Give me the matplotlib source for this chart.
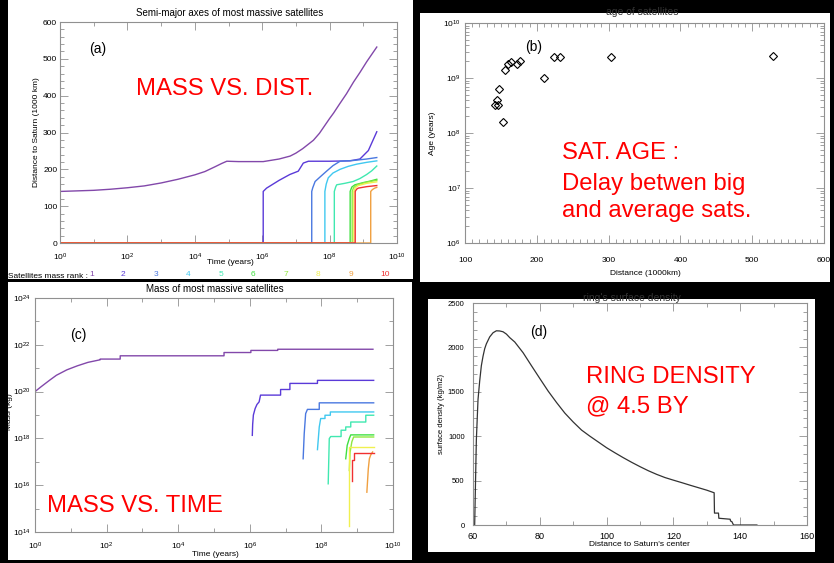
import matplotlib
matplotlib.use('Agg')
import matplotlib.pyplot as plt
import numpy as np
from matplotlib.patches import Rectangle
from matplotlib.ticker import FixedLocator, MultipleLocator, NullFormatter, FuncFormatter, LogLocator

plt.rcParams['font.family'] = ['Liberation Sans', 'DejaVu Sans']
plt.rcParams['mathtext.fontset'] = 'custom'
plt.rcParams['mathtext.rm'] = 'Liberation Sans'
plt.rcParams['mathtext.it'] = 'Liberation Sans'

W, H = 834, 563

rank_colors = ['#8248aa', '#5a3ad8', '#4a78e0', '#40c8f0', '#40e8b0',
               '#40e040', '#90e840', '#f0f050', '#f0a040', '#f03030']
rank_labels = ['1', '2', '3', '4', '5', '6', '7', '8', '9', '10']

# (a) semi-major axes: log10(time in years), distance (1000 km)
a_logt = [
    [0, 1, 1.5, 2, 2.5, 3, 3.5, 4, 4.3, 4.6, 4.8, 4.95, 5.3, 6.03, 6.5, 6.83, 7.0, 7.2, 7.52, 7.7,
     7.85, 8.0, 8.12, 8.3, 8.5, 8.71, 8.9, 9.1, 9.25, 9.4],
    [0, 6.03, 6.03, 6.13, 6.5, 6.82, 7.07, 7.22, 7.37, 8.0, 8.6, 8.9, 9.15, 9.4],
    [0, 7.47, 7.47, 7.5, 7.57, 7.75, 7.91, 8.1, 8.31, 8.7, 9.1, 9.4],
    [0, 7.86, 7.86, 7.9, 7.96, 8.1, 8.31, 8.55, 8.8, 9.1, 9.4],
    [0, 8.14, 8.14, 8.18, 8.21, 8.45, 8.7, 8.9, 9.1, 9.25, 9.4],
    [0, 8.61, 8.61, 8.66, 8.75, 9.0, 9.2, 9.4],
    [0, 8.67, 8.67, 8.71, 8.8, 9.0, 9.2, 9.4],
    [0, 8.72, 8.72, 8.76, 8.85, 9.1, 9.4],
    [0, 9.22, 9.22, 9.27, 9.34, 9.4],
    [0, 8.76, 8.76, 8.8, 8.85, 9.1, 9.4],
]
a_dist = [
    [140, 143, 146, 150, 155, 163, 173, 185, 194, 207, 216, 222, 221, 221, 228, 236, 244, 256, 279, 298,
     318, 338, 353, 378, 405, 437, 463, 492, 512, 532],
    [0, 0, 140, 149, 170, 186, 195, 217, 222, 222, 223, 228, 251, 302],
    [0, 0, 140, 150, 167, 182, 195, 210, 222, 224, 228, 232],
    [0, 0, 140, 160, 177, 190, 200, 208, 214, 219, 223],
    [0, 0, 140, 152, 158, 162, 167, 175, 186, 196, 209],
    [0, 0, 140, 152, 158, 164, 168, 173],
    [0, 0, 140, 150, 157, 163, 167, 170],
    [0, 0, 140, 150, 156, 162, 166],
    [0, 0, 140, 145, 149, 151],
    [0, 0, 140, 146, 149, 153, 156],
]

# (b) age of satellites
b_dist = [141.9, 145.6, 144.0, 148.0, 152.6, 155.8, 159.5, 164.0, 172.6, 176.7, 210.7, 223.7, 232.0, 302.8, 529.3]
b_age = [3.2e8, 3.2e8, 3.9e8, 6.2e8, 1.6e8, 1.4e9, 1.8e9, 1.95e9, 1.8e9, 2.0e9, 1.0e9, 2.4e9, 2.45e9, 2.45e9, 2.55e9]

# (c) mass: log10(time), log10(mass in kg)
c_logt = [
    [0, 0.18, 0.42, 0.6, 0.89, 1.18, 1.48, 1.82, 1.82, 2.38, 2.38, 5.28, 5.28, 6.03, 6.03, 6.78, 6.78, 9.44],
    [6.07, 6.08, 6.10, 6.15, 6.20, 6.26, 6.30, 6.86, 6.86, 7.12, 7.12, 7.89, 7.89, 9.46],
    [7.49, 7.52, 7.56, 7.61, 7.94, 7.94, 9.46],
    [7.89, 7.94, 7.98, 8.10, 8.10, 8.25, 8.25, 9.46],
    [8.19, 8.22, 8.26, 8.55, 8.55, 8.68, 8.68, 8.82, 8.82, 9.24, 9.24, 9.46],
    [8.68, 8.72, 8.78, 8.82, 9.46],
    [8.78, 8.80, 8.85, 8.90, 9.46],
    [8.78, 8.78, 9.46],
    [9.27, 9.31, 9.34, 9.38, 9.43],
    [8.85, 8.85, 8.92, 8.92, 9.46],
]
c_logm = [
    [20.0, 20.22, 20.5, 20.7, 20.93, 21.1, 21.25, 21.36, 21.39, 21.39, 21.53, 21.53, 21.67, 21.67, 21.76, 21.76, 21.81, 21.81],
    [18.13, 18.6, 19.0, 19.28, 19.45, 19.56, 19.85, 19.85, 20.09, 20.09, 20.35, 20.35, 20.48, 20.48],
    [17.13, 18.2, 19.06, 19.24, 19.24, 19.52, 19.52],
    [17.52, 18.49, 18.85, 18.85, 18.99, 18.99, 19.13, 19.13],
    [16.06, 17.99, 18.08, 18.08, 18.35, 18.35, 18.49, 18.49, 18.70, 18.70, 18.99, 18.99],
    [17.13, 17.7, 18.0, 18.15, 18.15],
    [16.63, 17.4, 17.85, 18.06, 18.06],
    [14.27, 17.63, 17.63],
    [15.7, 16.7, 17.13, 17.3, 17.42],
    [16.2, 17.06, 17.06, 17.37, 17.37],
]

# (d) ring surface density (kg/m2) vs distance to Saturn's center
d_r = [60.5, 60.7, 61.0, 61.5, 62.0, 62.5, 63.0, 63.5, 64.0, 65.0, 66.0, 67.0, 68.0, 69.0, 70.0, 71.0,
       72.5, 75.0, 77.5, 80.0, 82.5, 85.0, 87.5, 90.0, 92.5, 95.0, 97.5, 100.0, 102.5, 105.0, 107.5,
       110.0, 112.5, 115.0, 117.5, 120.0, 122.5, 125.0, 127.5, 130.0, 132.2, 132.3, 133.5, 133.6,
       137.0, 137.1, 137.5, 138.0, 145.0]
d_sigma = [0, 382, 954, 1412, 1620, 1794, 1900, 1985, 2040, 2118, 2165, 2187, 2185, 2176, 2150, 2110,
           2061, 1940, 1794, 1650, 1508, 1380, 1260, 1160, 1069, 1000, 935, 870, 813, 758, 706,
           657, 611, 570, 534, 505, 477, 448, 420, 392, 363, 134, 134, 76,
           65, 45, 38, 0, 0]


def fx(x):
    return x / W


def fy(y):
    return 1 - y / H


def box(left, top, right, bottom):
    return [fx(left), fy(bottom), (right - left) / W, (bottom - top) / H]


def white_panel(fig, left, top, right, bottom):
    rect = Rectangle((fx(left), fy(bottom)), (right - left) / W, (bottom - top) / H,
                     transform=fig.transFigure, facecolor='white', edgecolor='none', zorder=0)
    fig.add_artist(rect)
    return rect


def style_axes(ax, xpad=6, ypad=2, xsize=6, ysize=6):
    for s in ax.spines.values():
        s.set_color('#909090')
        s.set_linewidth(0.8)
    ax.tick_params(which='both', direction='in', top=True, right=True, color='#909090', width=0.6)
    ax.tick_params(which='major', length=6)
    ax.tick_params(which='minor', length=3)
    ax.tick_params(axis='x', pad=xpad, labelsize=xsize)
    ax.tick_params(axis='y', pad=ypad, labelsize=ysize)


def pow_fmt(v, pos):
    return r'$10^{%d}$' % int(round(np.log10(v)))


def log_time_axis(ax):
    ax.set_xscale('log')
    ax.set_xlim(1, 1e10)
    ax.xaxis.set_major_locator(FixedLocator([10.0 ** k for k in range(0, 11, 2)]))
    ax.xaxis.set_minor_locator(FixedLocator([10.0 ** k for k in range(1, 10, 2)]))
    ax.xaxis.set_major_formatter(FuncFormatter(pow_fmt))
    ax.xaxis.set_minor_formatter(NullFormatter())


fig = plt.figure(figsize=(W / 100, H / 100), dpi=100, facecolor='black')

pa = white_panel(fig, 8, 0, 413, 279)
pb = white_panel(fig, 420, 13, 830, 282)
pc = white_panel(fig, 8, 282, 412, 560)
pd_ = white_panel(fig, 428, 299, 815, 552)

red = '#ff0000'
big = 17.2

# ---- (a)
ax = fig.add_axes(box(60, 22, 397, 243))
for i in range(10):
    ax.plot(10.0 ** np.array(a_logt[i]), a_dist[i], color=rank_colors[i], lw=1.0)
log_time_axis(ax)
ax.set_ylim(0, 600)
ax.yaxis.set_major_locator(MultipleLocator(100))
ax.yaxis.set_minor_locator(MultipleLocator(20))
style_axes(ax, xpad=6, ypad=2)
fig.text(fx(230), fy(13), 'Semi-major axes of most massive satellites', fontsize=7, ha='center', va='center')
fig.text(fx(230), fy(263), 'Time (years)', fontsize=6, ha='center', va='center')
fig.text(fx(37), fy(132), 'Distance to Saturn (1000 km)', fontsize=6, ha='center', va='center', rotation=90)
fig.text(fx(98), fy(49), '(a)', fontsize=10, ha='center', va='center')
t = fig.text(fx(8), fy(276), 'Satellites mass rank :', fontsize=6, ha='left', va='center')
t.set_clip_path(pa)
lx = [92, 123, 156, 188, 221, 253, 286, 318, 351, 385]
for i in range(10):
    t = fig.text(fx(lx[i]), fy(275), rank_labels[i], fontsize=6, color=rank_colors[i], ha='center', va='center')
    t.set_clip_path(pa)
fig.text(fx(136), fy(95), 'MASS VS. DIST.', fontsize=big, color=red, ha='left', va='baseline')

# ---- (b)
ax = fig.add_axes(box(465, 23, 824, 243))
ax.plot(b_dist, b_age, ls='none', marker='D', ms=4.5, mfc='none', mec='black', mew=0.8)
ax.set_yscale('log')
ax.set_xlim(100, 600)
ax.set_ylim(1e6, 1e10)
ax.xaxis.set_major_locator(MultipleLocator(100))
ax.xaxis.set_minor_locator(MultipleLocator(10))
ax.yaxis.set_major_locator(FixedLocator([1e6, 1e7, 1e8, 1e9, 1e10]))
ax.yaxis.set_minor_locator(LogLocator(base=10, subs=np.arange(2, 10)))
ax.yaxis.set_major_formatter(FuncFormatter(pow_fmt))
ax.yaxis.set_minor_formatter(NullFormatter())
style_axes(ax, xpad=10, ypad=3)
fig.text(fx(642), fy(12), 'age of satellites', fontsize=7.5, color='#333333', ha='center', va='center')
fig.text(fx(645), fy(273), 'Distance (1000km)', fontsize=6, ha='center', va='center')
fig.text(fx(433), fy(133), 'Age (years)', fontsize=6, ha='center', va='center', rotation=90)
fig.text(fx(534), fy(47), '(b)', fontsize=10, ha='center', va='center')
for txt, yb in zip(['SAT. AGE :', 'Delay betwen big', 'and average sats.'], [159, 190, 217]):
    fig.text(fx(562), fy(yb), txt, fontsize=big, color=red, ha='left', va='baseline')

# ---- (c)
ax = fig.add_axes(box(35, 298, 393, 532))
for i in range(10):
    ax.plot(10.0 ** np.array(c_logt[i]), 10.0 ** np.array(c_logm[i]), color=rank_colors[i], lw=1.0)
log_time_axis(ax)
ax.set_yscale('log')
ax.set_ylim(1e14, 1e24)
ax.yaxis.set_major_locator(FixedLocator([10.0 ** k for k in range(14, 25, 2)]))
ax.yaxis.set_minor_locator(FixedLocator([10.0 ** k for k in range(15, 24, 2)]))
ax.yaxis.set_major_formatter(FuncFormatter(pow_fmt))
ax.yaxis.set_minor_formatter(NullFormatter())
style_axes(ax, xpad=6, ypad=3)
fig.text(fx(215), fy(289), 'Mass of most massive satellites', fontsize=7, ha='center', va='center')
fig.text(fx(215), fy(555), 'Time (years)', fontsize=6, ha='center', va='center')
t = fig.text(fx(10), fy(412), 'Mass (kg)', fontsize=6, ha='center', va='center', rotation=90)
t.set_clip_path(pc)
fig.text(fx(78), fy(335), '(c)', fontsize=10, ha='center', va='center')
fig.text(fx(47), fy(512), 'MASS VS. TIME', fontsize=big, color=red, ha='left', va='baseline')

# ---- (d)
ax = fig.add_axes(box(473, 303, 807, 525))
ax.plot(d_r, d_sigma, color='#333333', lw=0.9)
ax.set_xlim(60, 160)
ax.set_ylim(0, 2500)
ax.xaxis.set_major_locator(MultipleLocator(20))
ax.xaxis.set_minor_locator(MultipleLocator(10))
ax.yaxis.set_major_locator(MultipleLocator(500))
ax.yaxis.set_minor_locator(MultipleLocator(100))
style_axes(ax, xpad=5, ypad=6, xsize=6.5, ysize=5.5)
fig.text(fx(632), fy(298), "ring's surface density", fontsize=7.5, color='#333333', ha='center', va='center')
fig.text(fx(639), fy(545), "Distance to Saturn's center", fontsize=6, ha='center', va='center')
fig.text(fx(441), fy(414), 'surface density (kg/m2)', fontsize=5.5, ha='center', va='center', rotation=90)
fig.text(fx(539), fy(332), '(d)', fontsize=10, ha='center', va='center')
fig.text(fx(586), fy(383), 'RING DENSITY', fontsize=big, color=red, ha='left', va='baseline')
fig.text(fx(586), fy(412), '@ 4.5 BY', fontsize=big, color=red, ha='left', va='baseline')

fig.savefig('out.png', dpi=100, facecolor='black')
